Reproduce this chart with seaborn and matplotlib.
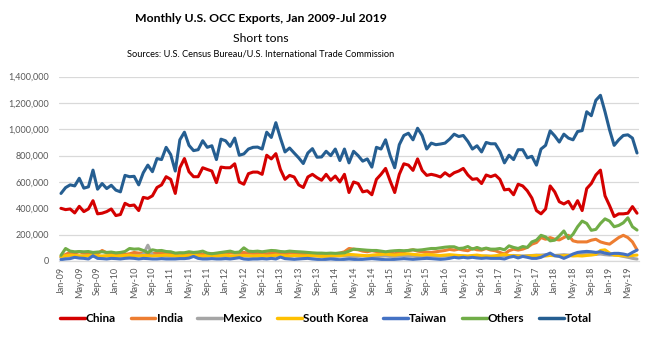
import numpy as np
import pandas as pd
import matplotlib
matplotlib.use("Agg")
import matplotlib.pyplot as plt
import seaborn as sns
from matplotlib.ticker import FuncFormatter

# ---- data (thousand short tons), Jan 2009 .. Jul 2019 ----
china = [400, 390, 395, 365, 415, 375, 395, 458, 358, 363, 375, 395, 345, 353, 438, 420, 425, 383, 483, 475, 495,
         558, 578, 640, 620, 513, 708, 778, 678, 640, 640, 708, 695, 683, 595, 713, 708, 708, 738, 600, 583, 663, 675,
         675, 658, 803, 775, 815, 695, 620, 650, 638, 578, 558, 638, 658, 633, 613, 658, 613, 645, 600, 658, 520, 600,
         588, 525, 533, 503, 620, 658, 703, 608, 520, 658, 738, 728, 688, 775, 688, 650, 658, 650, 638, 670, 645,
         670, 683, 703, 653, 620, 625, 588, 653, 640, 653, 620, 540, 545, 503, 583, 570, 533, 478, 383, 358, 395,
         570, 525, 450, 433, 453, 395, 458, 383, 550, 588, 653, 690, 495, 420, 338, 358, 358, 363, 413, 363]
india = [30, 50, 65, 60, 70, 60, 55, 50, 55, 80, 62, 55, 50, 55, 50, 55, 65, 60, 60, 55, 55,
         60, 62, 60, 55, 55, 60, 55, 50, 55, 55, 52, 50, 55, 55, 60, 60, 65, 60, 62, 65, 60, 58,
         58, 60, 55, 58, 62, 58, 55, 60, 62, 55, 50, 52, 55, 55, 52, 50, 52, 55, 60, 70, 95, 90,
         85, 75, 70, 78, 72, 65, 65, 60, 55, 65, 70, 80, 85, 75, 70, 65, 65, 70, 75, 80, 88,
         83, 90, 83, 78, 95, 85, 83, 95, 83, 78, 65, 53, 78, 90, 83, 90, 103, 128, 140, 178, 165,
         178, 165, 160, 178, 195, 153, 145, 145, 145, 158, 165, 145, 135, 128, 153, 178, 195, 178, 145, 85]
mexico = [25, 35, 40, 38, 35, 40, 38, 35, 33, 35, 38, 36, 35, 35, 38, 40, 42, 40, 50, 120, 45,
          40, 38, 36, 35, 35, 33, 35, 38, 36, 35, 33, 35, 38, 36, 35, 33, 35, 38, 40, 38, 36, 35,
          35, 33, 36, 38, 37, 35, 32, 34, 38, 36, 35, 33, 36, 39, 36, 34, 33, 35, 38, 37, 35, 32,
          35, 38, 36, 34, 33, 36, 38, 35, 35, 38, 40, 38, 36, 34, 38, 40, 39, 36, 35, 38, 40,
          35, 38, 36, 35, 38, 36, 35, 38, 36, 35, 40, 38, 40, 42, 40, 38, 40, 42, 45, 45, 48,
          45, 42, 45, 48, 45, 45, 50, 53, 55, 53, 50, 53, 48, 45, 45, 42, 35, 28, 20, 15]
south_korea = [35, 40, 45, 42, 40, 38, 42, 45, 40, 38, 40, 42, 38, 40, 42, 45, 40, 38, 42, 40, 38,
               40, 42, 45, 42, 40, 38, 40, 42, 45, 40, 38, 42, 40, 38, 42, 45, 40, 38, 40, 42, 40, 38,
               40, 42, 38, 40, 45, 42, 40, 38, 42, 40, 38, 40, 42, 38, 36, 38, 40, 42, 40, 45, 50, 48,
               45, 42, 40, 45, 48, 50, 52, 48, 45, 50, 52, 55, 50, 48, 45, 50, 48, 45, 42, 45, 48,
               45, 42, 40, 38, 42, 45, 40, 38, 36, 40, 45, 50, 42, 40, 38, 35, 38, 40, 42, 40, 38,
               42, 40, 38, 40, 42, 38, 40, 38, 42, 45, 50, 80, 85, 60, 45, 42, 40, 38, 42, 45]
taiwan = [10, 15, 18, 28, 22, 20, 15, 40, 20, 18, 15, 20, 18, 15, 20, 22, 20, 15, 20, 18, 15,
          15, 18, 15, 15, 15, 18, 18, 22, 35, 20, 15, 15, 18, 15, 15, 18, 15, 20, 25, 15, 12, 15,
          15, 18, 15, 20, 15, 30, 18, 15, 12, 15, 18, 20, 15, 12, 10, 12, 15, 12, 10, 12, 15, 12,
          10, 12, 15, 18, 15, 12, 10, 10, 12, 15, 18, 15, 12, 15, 18, 20, 18, 15, 12, 15, 20,
          28, 23, 28, 23, 28, 23, 20, 23, 20, 20, 20, 15, 28, 35, 23, 35, 28, 20, 20, 28, 45,
          60, 40, 35, 20, 35, 53, 65, 70, 73, 70, 65, 70, 60, 53, 58, 58, 53, 45, 65, 83]
others = [43, 95, 75, 70, 72, 70, 72, 65, 68, 70, 65, 68, 62, 65, 72, 95, 90, 92, 80, 65, 85,
          78, 80, 72, 70, 60, 62, 63, 70, 65, 68, 75, 60, 55, 60, 65, 70, 75, 65, 68, 100, 75, 72,
          75, 70, 75, 80, 78, 72, 70, 75, 72, 70, 68, 65, 62, 60, 60, 58, 60, 58, 60, 62, 75, 90,
          88, 85, 82, 80, 80, 75, 70, 75, 78, 80, 78, 80, 85, 82, 85, 90, 95, 95, 100, 105, 108,
          108, 95, 98, 110, 90, 103, 90, 98, 90, 90, 95, 85, 115, 103, 95, 110, 103, 145, 158, 195, 183,
          153, 158, 190, 228, 170, 203, 260, 303, 285, 233, 240, 285, 320, 303, 260, 270, 290, 328, 260, 235]
total = [513, 557, 578, 570, 628, 553, 563, 690, 545, 588, 550, 575, 538, 525, 650, 640, 643, 578, 670, 728, 678,
         778, 770, 863, 808, 683, 920, 978, 878, 838, 845, 913, 863, 875, 770, 925, 913, 870, 933, 803, 813, 850, 863,
         865, 850, 978, 938, 1050, 933, 828, 858, 820, 783, 740, 820, 853, 788, 790, 833, 800, 850, 763, 850, 745, 833,
         800, 758, 775, 713, 863, 850, 920, 800, 708, 883, 953, 970, 920, 1008, 953, 850, 895, 883, 888, 895, 925,
         963, 945, 953, 908, 850, 875, 828, 900, 890, 890, 833, 745, 803, 770, 845, 845, 783, 795, 728, 850, 878,
         988, 950, 903, 963, 933, 920, 983, 990, 1133, 1103, 1220, 1258, 1133, 995, 878, 920, 953, 958, 933, 820]

series_names = ["China", "India", "Mexico", "South Korea", "Taiwan", "Others", "Total"]
series_vals = [china, india, mexico, south_korea, taiwan, others, total]
colors = ["#D40000", "#ED7D31", "#A5A5A5", "#FFC000", "#4472C4", "#70AD47", "#255E91"]

months = pd.date_range("2009-01-01", periods=len(total), freq="MS").strftime("%b-%y").tolist()
yticks = [0, 200000, 400000, 600000, 800000, 1000000, 1200000, 1400000]

rows = []
for name, vals in zip(series_names, series_vals):
    for i, v in enumerate(vals):
        rows.append({"idx": i, "month": months[i], "series": name, "tons": v * 1000})
df = pd.DataFrame(rows)

sns.set_theme(style="white")
plt.rcParams["font.family"] = ["Lato", "DejaVu Sans"]

fig = plt.figure(figsize=(6.5, 3.37), dpi=100)
ax = fig.add_axes([58.7 / 650, 1 - 261 / 337, 580.6 / 650, (261 - 76.6) / 337])

sns.lineplot(data=df, x="idx", y="tons", hue="series", hue_order=series_names,
             palette=colors, linewidth=2.2, ax=ax, legend=False)

ax.set_xlim(-0.5, len(total) - 0.5)
ax.set_ylim(0, 1400000)
ax.set_yticks(yticks)
ax.yaxis.set_major_formatter(FuncFormatter(lambda v, p: f"{v:,.0f}"))
ax.set_xticks(range(0, len(total), 4))
ax.set_xticklabels(months[::4], rotation=90)
ax.tick_params(axis="both", length=0, labelsize=6.5, colors="#595959")
ax.tick_params(axis="y", pad=7)
ax.tick_params(axis="x", pad=4)
ax.grid(axis="y", color="#D9D9D9", linewidth=0.9)
ax.set_axisbelow(True)
for s in ["top", "right", "left"]:
    ax.spines[s].set_visible(False)
ax.spines["bottom"].set_color("#D9D9D9")
ax.spines["bottom"].set_linewidth(0.9)
ax.set_xlabel("")
ax.set_ylabel("")

cx = 261 / 650
fig.text(cx, 1 - 18 / 337, "Monthly U.S. OCC Exports, Jan 2009-Jul 2019", ha="center", va="center",
         fontsize=8.8, fontweight="bold", color="#000000")
fig.text(cx, 1 - 38 / 337, "Short tons", ha="center", va="center", fontsize=8.8, color="#000000")
fig.text(cx, 1 - 54 / 337, "Sources: U.S. Census Bureau/U.S. International Trade Commission",
         ha="center", va="center", fontsize=6.7, color="#000000")

handles = ax.get_lines()[:len(series_names)]
leg = fig.legend(handles, series_names, loc="center", bbox_to_anchor=(326 / 650, 1 - 319 / 337),
                 ncol=7, frameon=False, handlelength=2.1, handletextpad=0.1, columnspacing=1.25,
                 prop={"weight": "bold", "size": 8.5})
for t in leg.get_texts():
    t.set_color("#000000")
for l in leg.get_lines():
    l.set_linewidth(2.5)

fig.savefig("out.png", dpi=100)
